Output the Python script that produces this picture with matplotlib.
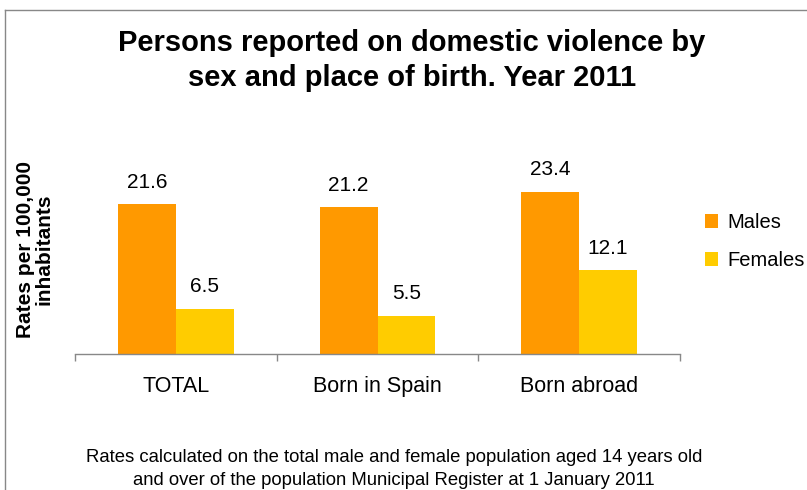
import numpy as np
import matplotlib
matplotlib.use('Agg')
import matplotlib.pyplot as plt
from matplotlib.lines import Line2D
from matplotlib.patches import Patch

plt.rcParams['font.family'] = ['Liberation Sans', 'DejaVu Sans']

# data
categories = ['TOTAL', 'Born in Spain', 'Born abroad']
males = [21.6, 21.2, 23.4]
females = [6.5, 5.5, 12.1]
series_names = ['Males', 'Females']
colors = ['#FF9900', '#FFCC00']

W, H = 807, 490
fig = plt.figure(figsize=(W / 100, H / 100), dpi=100)

# axes placement in pixels: left 75, right 680, bottom 354, top 160
ax = fig.add_axes([75 / W, 1 - 354 / H, (680 - 75) / W, (354 - 160) / H])

x = np.arange(len(categories))
bw = 0.287
b1 = ax.bar(x - bw / 2, males, bw, color=colors[0], label=series_names[0])
b2 = ax.bar(x + bw / 2, females, bw, color=colors[1], label=series_names[1])

for bars, vals in [(b1, males), (b2, females)]:
    for rect, v in zip(bars, vals):
        ax.annotate(f'{v:.1f}', (rect.get_x() + rect.get_width() / 2, v),
                    xytext=(0, 9), textcoords='offset points',
                    ha='center', va='bottom', fontsize=15)

ax.set_xlim(-0.5, 2.5)
ax.set_ylim(0, 28)
ax.set_yticks([])
for s in ['top', 'right', 'left']:
    ax.spines[s].set_visible(False)
ax.spines['bottom'].set_color('#888888')
ax.spines['bottom'].set_linewidth(1)

ax.set_xticks(x)
ax.set_xticklabels(categories, fontsize=15.5)
ax.set_xticks([-0.5, 0.5, 1.5, 2.5], minor=True)
ax.tick_params(axis='x', which='major', length=0, pad=16)
ax.tick_params(axis='x', which='minor', length=5, color='#888888', width=1)

# title
fig.text(412 / W, 1 - 43 / H, 'Persons reported on domestic violence by',
         ha='center', va='center', fontsize=21, fontweight='bold')
fig.text(412 / W, 1 - 78 / H, 'sex and place of birth. Year 2011',
         ha='center', va='center', fontsize=21, fontweight='bold')

# y label
fig.text(35 / W, 1 - 249 / H, 'Rates per 100,000\ninhabitants', rotation=90,
         ha='center', va='center', multialignment='center',
         fontsize=15, fontweight='bold', linespacing=0.95)

# legend
handles = [Patch(facecolor=c, edgecolor='none') for c in colors]
fig.legend(handles, series_names, loc='upper left',
           bbox_to_anchor=(705 / W, 1 - 213 / H), frameon=False,
           fontsize=14.5, handlelength=0.65, handleheight=0.65,
           handletextpad=0.45, labelspacing=0.95, borderpad=0, borderaxespad=0)

# footnote
fig.text(394 / W, 1 - 457 / H,
         'Rates calculated on the total male and female population aged 14 years old',
         ha='center', va='center', fontsize=13.3)
fig.text(394 / W, 1 - 480 / H,
         'and over of the population Municipal Register at 1 January 2011',
         ha='center', va='center', fontsize=13.3)

# chart frame (top and left edges visible)
fig.add_artist(Line2D([5 / W, 1], [1 - 10 / H, 1 - 10 / H], color='#888888', lw=1))
fig.add_artist(Line2D([5 / W, 5 / W], [0, 1 - 10 / H], color='#888888', lw=1))

fig.savefig('out.png', dpi=100)
